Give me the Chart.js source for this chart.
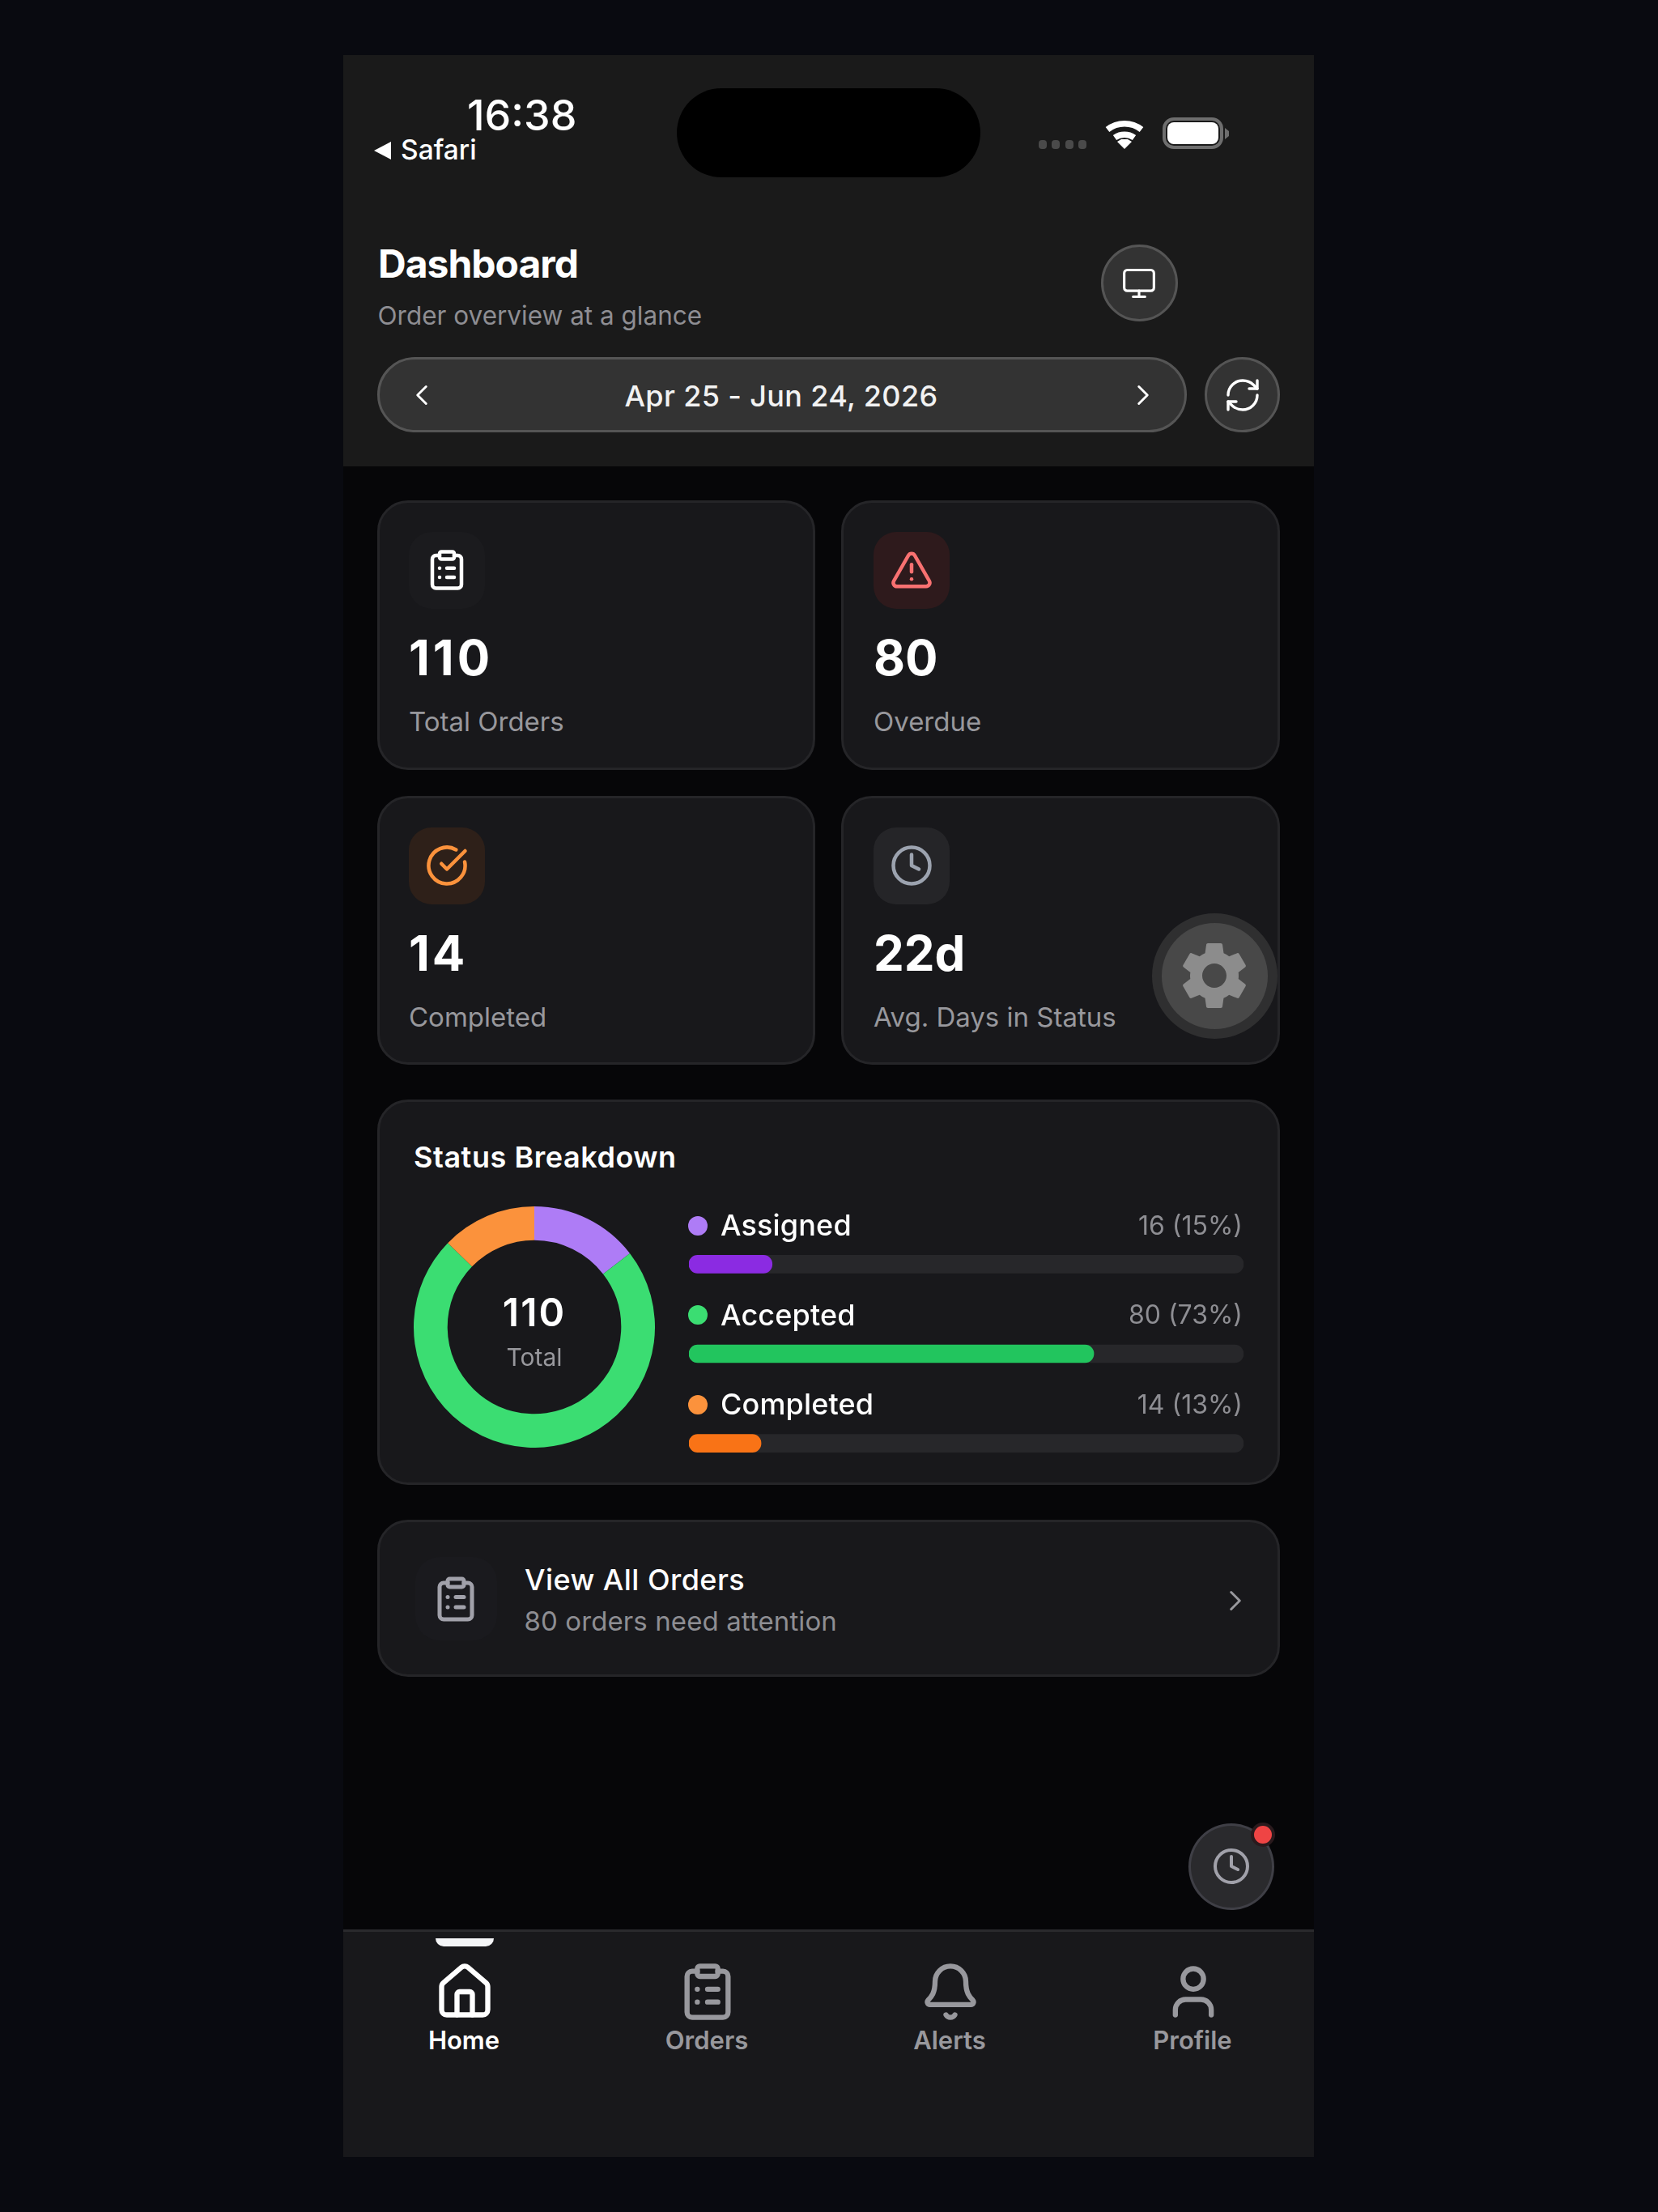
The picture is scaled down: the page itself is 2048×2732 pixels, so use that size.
<!DOCTYPE html>
<html>
<head>
<meta charset="utf-8">
<title>Dashboard</title>
<script src="https://cdn.jsdelivr.net/npm/chart.js@4"></script>
<style>
  html, body { margin: 0; padding: 0; background: #090a10; }
  #page { position: relative; width: 2048px; height: 2732px; overflow: hidden; font-family: Inter, sans-serif; background: #090a10; }
  #page div, #page canvas, #page svg { position: absolute; box-sizing: border-box; }
  .t { white-space: nowrap; line-height: 1; }
  .card { background: #18181b; border: 3px solid #252528; border-radius: 38px; }
  .round { background: #333333; border: 3px solid #555555; border-radius: 999px; }
  svg.i { fill: none; stroke: currentColor; stroke-width: 2; stroke-linecap: round; stroke-linejoin: round; }
</style>
</head>
<body>
<div id="page">
  <div style="left:424px;top:68px;width:1199px;height:2596px;background:#060608"></div>
  <div style="left:424px;top:68px;width:1199px;height:508px;background:#1a1a1a"></div>
  <div style="left:836px;top:109px;width:375px;height:110px;background:#000;border-radius:55px"></div>
  <div class="round" style="left:466px;top:441px;width:1000px;height:93px"></div>
  <div class="round" style="left:1488px;top:441px;width:93px;height:93px"></div>
  <div class="round" style="left:1360px;top:302px;width:95px;height:95px"></div>
  <div class="card" style="left:466px;top:618px;width:541px;height:333px"></div>
  <div class="card" style="left:1039px;top:618px;width:542px;height:333px"></div>
  <div class="card" style="left:466px;top:983px;width:541px;height:332px"></div>
  <div class="card" style="left:1039px;top:983px;width:542px;height:332px"></div>
  <div class="card" style="left:466px;top:1358px;width:1115px;height:476px"></div>
  <div class="card" style="left:466px;top:1877px;width:1115px;height:194px"></div>
  <div style="left:513px;top:1923px;width:101px;height:103px;background:#1a1a1e;border-radius:30px"></div>
  <div style="left:424px;top:2383px;width:1199px;height:281px;background:#18181b;border-top:3px solid #2a2a2d"></div>
  <div style="left:538px;top:2394px;width:72px;height:10px;background:#f4f5f7;border-radius:0 0 10px 10px"></div>
  <div style="left:1468px;top:2252px;width:106px;height:107px;background:#2a2a2d;border:3px solid #3f3f46;border-radius:50%"></div>
  <div style="left:1545px;top:2251px;width:30px;height:30px;background:#ef4444;border:4px solid #2a1a1d;border-radius:50%"></div>
  <div style="left:1423px;top:1128px;width:155px;height:155px;background:#2f2f30;border-radius:50%;z-index:3"></div>
  <div style="left:1435px;top:1140px;width:131px;height:131px;background:#484848;border-radius:50%;z-index:3"></div>
  <canvas id="donut" width="298" height="298" style="left:511px;top:1490px"></canvas>
  <canvas id="bars" width="685" height="332" style="left:851px;top:1506px"></canvas>
</div>
<script>
const statusLabels = ["Assigned", "Accepted", "Completed"];
const statusCounts = [16, 80, 14];
const statusPercents = [15, 73, 13];
const donutColors = ["#ae7cf6", "#3bdd72", "#fb923c"];
const barColors = ["#8b2be2", "#22c55e", "#f97316"];
const totalOrders = 110;
const statLabels = ["Total Orders", "Overdue", "Completed", "Avg. Days in Status"];
const statValues = ["110", "80", "14", "22d"];
const navLabels = ["Home", "Orders", "Alerts", "Profile"];

const page = document.getElementById("page");

// baseline is where the text sits, Inter baseline is .864 down a line-height:1 box
function text(str, x, baseline, size, weight, color, anchor, spacing) {
  const d = document.createElement("div");
  d.className = "t";
  d.textContent = str;
  let tx = "";
  if (anchor === "center") tx = "transform:translateX(-50%);";
  if (anchor === "right") tx = "transform:translateX(-100%);";
  d.style.cssText = `left:${x}px;top:${baseline - size * 0.864}px;font-size:${size}px;font-weight:${weight};color:${color};letter-spacing:${spacing || 0}px;${tx}`;
  page.appendChild(d);
  return d;
}

const ICONS = {
  clipboard: '<rect x="8" y="2" width="8" height="4" rx="1"/><path d="M16 4h2a2 2 0 0 1 2 2v14a2 2 0 0 1-2 2H6a2 2 0 0 1-2-2V6a2 2 0 0 1 2-2h2"/><path d="M12 11h4"/><path d="M12 16h4"/><path d="M8 11h.01"/><path d="M8 16h.01"/>',
  alert: '<path d="m21.73 18-8-14a2 2 0 0 0-3.48 0l-8 14A2 2 0 0 0 4 21h16a2 2 0 0 0 1.73-3"/><path d="M12 9v4"/><path d="M12 17h.01"/>',
  check: '<path d="M21.801 10A10 10 0 1 1 17 3.335"/><path d="m9 11 3 3L22 4"/>',
  clock: '<circle cx="12" cy="12" r="10"/><polyline points="12 6 12 12 16 14"/>',
  monitor: '<rect x="2" y="3" width="20" height="14" rx="2"/><line x1="8" y1="21" x2="16" y2="21"/><line x1="12" y1="17" x2="12" y2="21"/>',
  refresh: '<path d="M3 12a9 9 0 0 1 9-9 9.75 9.75 0 0 1 6.74 2.74L21 8"/><path d="M21 3v5h-5"/><path d="M21 12a9 9 0 0 1-9 9 9.75 9.75 0 0 1-6.74-2.74L3 16"/><path d="M8 16H3v5"/>',
  left: '<path d="m15 18-6-6 6-6"/>',
  right: '<path d="m9 18 6-6-6-6"/>',
  home: '<path d="M15 21v-8a1 1 0 0 0-1-1h-4a1 1 0 0 0-1 1v8"/><path d="M3 10a2 2 0 0 1 .709-1.528l7-5.999a2 2 0 0 1 2.582 0l7 5.999A2 2 0 0 1 21 10v9a2 2 0 0 1-2 2H5a2 2 0 0 1-2-2z"/>',
  bell: '<path d="M10.268 21a2 2 0 0 0 3.464 0"/><path d="M3.262 15.326A1 1 0 0 0 4 17h16a1 1 0 0 0 .74-1.673C19.41 13.956 18 12.499 18 8A6 6 0 0 0 6 8c0 4.499-1.411 5.956-2.738 7.326"/>',
  user: '<path d="M19 21v-2a4 4 0 0 0-4-4H9a4 4 0 0 0-4 4v2"/><circle cx="12" cy="7" r="4"/>'
};

function icon(name, cx, cy, size, color, stroke) {
  const wrap = document.createElement("div");
  wrap.style.cssText = `left:${cx - size / 2}px;top:${cy - size / 2}px;width:${size}px;height:${size}px;color:${color}`;
  wrap.innerHTML = `<svg class="i" width="${size}" height="${size}" viewBox="0 0 24 24" style="left:0;top:0;stroke-width:${stroke || 2}">${ICONS[name]}</svg>`;
  page.appendChild(wrap);
}

// status bar
text("16:38", 577, 162, 52, 500, "#ffffff");
text("Safari", 495, 198, 33.5, 500, "#ffffff");
const chrome = document.createElement("div");
chrome.style.cssText = "left:0;top:0;width:2048px;height:300px";
chrome.innerHTML = `<svg width="2048" height="300" style="left:0;top:0">
  <polygon points="462,186 483,175 483,197" fill="#fff"/>
  <g fill="#4a4a4a"><rect x="1283" y="173" width="10" height="11" rx="4"/><rect x="1299" y="173" width="10" height="11" rx="4"/><rect x="1316" y="173" width="10" height="11" rx="4"/><rect x="1332" y="173" width="10" height="11" rx="4"/></g>
  <g fill="none" stroke="#fff" stroke-width="7.5"><path d="M1368 160a34 34 0 0 1 42 0"/><path d="M1377 170a21 21 0 0 1 24 0"/></g>
  <polygon points="1389,184 1380,175 1385,172 1393,172 1398,175" fill="#fff"/>
  <rect x="1438" y="147" width="71" height="35" rx="12" fill="none" stroke="#6e6e6e" stroke-width="4"/>
  <rect x="1442" y="151" width="63" height="27" rx="8" fill="#fff"/>
  <polygon points="1513,158 1518,162 1518,168 1513,172" fill="#6e6e6e"/>
</svg>`;
page.appendChild(chrome);

// header
text("Dashboard", 467, 343, 48, 700, "#ffffff", "", -1);
text("Order overview at a glance", 466.5, 401, 31.5, 400, "#8e8e93");
text("Apr 25 - Jun 24, 2026", 965, 502, 36, 500, "#f2f2f2", "center", 0.35);
icon("monitor", 1407, 350, 44, "#ffffff", 1.7);
icon("refresh", 1535, 488, 48, "#ffffff", 1.7);
icon("left", 521, 488, 42, "#ffffff", 1.7);
icon("right", 1412, 488, 42, "#ffffff", 1.7);

// stat cards
const statSpots = [[505, 0, "clipboard", "#ffffff", "#1b1b1e", 4], [1079, 0, "alert", "#f87171", "#2e1a1c", 0], [505, 365, "check", "#fb923c", "#2e2019", 3], [1079, 365, "clock", "#9ca3af", "#252528", 0]];
statSpots.forEach((s, i) => {
  const box = document.createElement("div");
  box.style.cssText = `left:${s[0]}px;top:${657 + s[1]}px;width:94px;height:95px;background:${s[4]};border-radius:28px`;
  page.appendChild(box);
  icon(s[2], s[0] + 47, 704 + s[1], 54, s[3]);
  text(statValues[i], s[0], 834 + s[1], 60, 700, "#ffffff", "", s[5]);
  text(statLabels[i], s[0], 904 + s[1], 33, 400, "#98989d");
});

// gear button
const gear = document.createElement("div");
gear.style.cssText = "left:1450px;top:1155px;width:100px;height:100px;z-index:4";
gear.innerHTML = '<svg width="100" height="100" viewBox="0 0 24 24" style="left:0;top:0"><path fill="#8c8c8c" d="M19.14 12.94c.04-.3.06-.61.06-.94 0-.32-.02-.64-.07-.94l2.03-1.58c.18-.14.23-.41.12-.61l-1.92-3.32c-.12-.22-.37-.29-.59-.22l-2.39.96c-.5-.38-1.03-.7-1.62-.94l-.36-2.54c-.04-.24-.24-.41-.48-.41h-3.84c-.24 0-.43.17-.47.41l-.36 2.54c-.59.24-1.13.57-1.62.94l-2.39-.96c-.22-.08-.47 0-.59.22L2.74 8.87c-.12.21-.08.47.12.61l2.03 1.58c-.05.3-.09.63-.09.94s.02.64.07.94l-2.03 1.58c-.18.14-.23.41-.12.61l1.92 3.32c.12.22.37.29.59.22l2.39-.96c.5.38 1.03.7 1.62.94l.36 2.54c.05.24.24.41.48.41h3.84c.24 0 .44-.17.47-.41l.36-2.54c.59-.24 1.13-.56 1.62-.94l2.39.96c.22.08.47 0 .59-.22l1.92-3.32c.12-.22.07-.47-.12-.61l-2.01-1.58zM12 15.6c-1.98 0-3.6-1.62-3.6-3.6s1.62-3.6 3.6-3.6 3.6 1.62 3.6 3.6-1.62 3.6-3.6 3.6z"/></svg>';
page.appendChild(gear);

// status breakdown text
text("Status Breakdown", 511, 1442, 36, 600, "#ffffff", "", 0.55);
text(String(totalOrders), 660, 1638, 48, 600, "#ffffff", "center", 2);
text("Total", 660, 1687, 30, 400, "#98989d", "center");
statusLabels.forEach((name, i) => {
  const y = 1513.5 + i * 110.5;
  const dot = document.createElement("div");
  dot.style.cssText = `left:850px;top:${y - 12}px;width:24px;height:24px;border-radius:50%;background:${donutColors[i]}`;
  page.appendChild(dot);
  text(name, 890, y + 13, 36, 500, "#ffffff", "", 0.15);
  text(`${statusCounts[i]} (${statusPercents[i]}%)`, 1535, y + 12, 32, 400, "#8e8e93", "right");
});

// view all orders
icon("clipboard", 563, 1975, 60, "#a1a1aa");
text("View All Orders", 648, 1964, 36, 500, "#ffffff", "", 0.45);
text("80 orders need attention", 647.5, 2015, 33, 400, "#8e8e93", "", 0.1);
icon("right", 1526, 1977, 42, "#98989d", 1.7);

// floating clock and bottom nav
icon("clock", 1521, 2305, 48, "#a1a1aa");
const navIcons = ["home", "clipboard", "bell", "user"];
navLabels.forEach((name, i) => {
  const c = i === 0 ? "#ffffff" : "#98989d";
  icon(navIcons[i], 574 + i * 300, 2460, 76, c);
  text(name, 573 + i * 300, 2531, 31, 600, c, "center");
});

// charts
Chart.defaults.animation = false;

new Chart(document.getElementById("donut"), {
  type: "doughnut",
  data: {
    labels: statusLabels,
    datasets: [{
      data: statusCounts,
      backgroundColor: donutColors,
      borderWidth: 0
    }]
  },
  options: {
    responsive: false,
    cutout: "72%",
    layout: { padding: 0 },
    plugins: { legend: { display: false }, tooltip: { enabled: false } }
  }
});

new Chart(document.getElementById("bars"), {
  type: "bar",
  data: {
    labels: statusLabels,
    datasets: [
      {
        data: statusPercents,
        backgroundColor: barColors,
        barThickness: 22,
        borderRadius: 11,
        borderSkipped: false,
        order: 1
      },
      {
        data: statusLabels.map(() => 100),
        backgroundColor: "#27272a",
        barThickness: 22,
        borderRadius: 11,
        borderSkipped: false,
        order: 2
      }
    ]
  },
  options: {
    responsive: false,
    indexAxis: "y",
    layout: { padding: 0 },
    scales: {
      x: { display: false, min: 0, max: 100 },
      y: { display: false, stacked: true }
    },
    plugins: { legend: { display: false }, tooltip: { enabled: false } }
  }
});
</script>
</body>
</html>
